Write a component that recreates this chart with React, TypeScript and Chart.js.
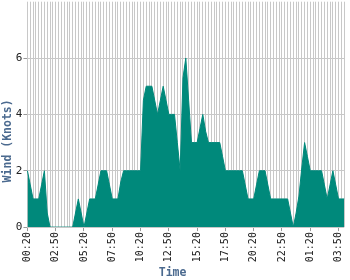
import React, { useEffect, useRef } from "react";
import { Chart, registerables } from "chart.js";

Chart.register(...registerables);

const timeLabels: string[] = [
  "00:20", "00:35", "00:50",
  "01:05", "01:20", "01:35", "01:50",
  "02:05", "02:20", "02:35", "02:50",
  "03:05", "03:20", "03:35", "03:50",
  "04:05", "04:20", "04:35", "04:50",
  "05:05", "05:20", "05:35", "05:50",
  "06:05", "06:20", "06:35", "06:50",
  "07:05", "07:20", "07:35", "07:50",
  "08:05", "08:20", "08:35", "08:50",
  "09:05", "09:20", "09:35", "09:50",
  "10:05", "10:20", "10:35", "10:50",
  "11:05", "11:20", "11:35", "11:50",
  "12:05", "12:20", "12:35", "12:50",
  "13:05", "13:20", "13:35", "13:50",
  "14:05", "14:20", "14:35", "14:50",
  "15:05", "15:20", "15:35", "15:50",
  "16:05", "16:20", "16:35", "16:50",
  "17:05", "17:20", "17:35", "17:50",
  "18:05", "18:20", "18:35", "18:50",
  "19:05", "19:20", "19:35", "19:50",
  "20:05", "20:20", "20:35", "20:50",
  "21:05", "21:20", "21:35", "21:50",
  "22:05", "22:20", "22:35", "22:50",
  "23:05", "23:20", "23:35", "23:50",
  "00:05", "00:20", "00:35", "00:50",
  "01:05", "01:20", "01:35", "01:50",
  "02:05", "02:20", "02:35", "02:50",
  "03:05", "03:20", "03:35", "03:50",
  "04:05", "04:20",
];

const windKnots: number[] = [
  2, 1.5, 1, 1, 1, 1.5, 2, 0.5, 0, 0,
  0, 0, 0, 0, 0, 0, 0, 0.5, 1, 0.5,
  0, 0.5, 1, 1, 1, 1.5, 2, 2, 2, 1.5,
  1, 1, 1, 1.6, 2, 2, 2, 2, 2, 2,
  2, 4.5, 5, 5, 5, 4.5, 4, 4.5, 5, 4.5,
  4, 4, 4, 3, 2, 5.3, 6, 4.5, 3, 3,
  3, 3.5, 4, 3.4, 3, 3, 3, 3, 3, 2.5,
  2, 2, 2, 2, 2, 2, 2, 1.5, 1, 1,
  1, 1.5, 2, 2, 2, 1.5, 1, 1, 1, 1,
  1, 1, 1, 0.5, 0, 0.5, 1.1, 2.1, 3, 2.5,
  2, 2, 2, 2, 2, 1.5, 1, 1.5, 2, 1.5,
  1, 1, 1,
];

const yTickValues: number[] = [0, 2, 4, 6];
const labelEvery = 10;

const FONT = "'DejaVu Sans Mono', monospace";
const TITLE_COLOR = "#4b6a8f";
const FILL = "#00897b";
const GRID = "#c8c8c8";

export default function App() {
  const ref = useRef<HTMLCanvasElement | null>(null);

  useEffect(() => {
    if (!ref.current) return;
    const chart = new Chart(ref.current, {
      type: "line",
      data: {
        labels: timeLabels,
        datasets: [
          {
            data: windKnots,
            borderColor: FILL,
            backgroundColor: FILL,
            borderWidth: 1,
            pointRadius: 0,
            tension: 0,
            fill: "origin",
          },
        ],
      },
      options: {
        animation: false,
        responsive: false,
        devicePixelRatio: 1,
        layout: { padding: { left: 1, right: 5.8, top: 1.7, bottom: 0 } },
        plugins: {
          legend: { display: false },
          tooltip: { enabled: false },
          title: {
            display: true,
            text: "Wind (Knots)",
            position: "left",
            color: TITLE_COLOR,
            font: { family: FONT, size: 11.5, weight: "bold" },
            padding: { top: 0, bottom: 0 },
          },
          subtitle: {
            display: true,
            text: "Time",
            position: "bottom",
            color: TITLE_COLOR,
            font: { family: FONT, size: 11.5, weight: "bold" },
            padding: { top: 3, bottom: 0 },
          },
        },
        scales: {
          x: {
            type: "category",
            offset: false,
            border: { display: false },
            afterFit: (scale: any) => {
              scale.paddingLeft = 0;
              scale.paddingRight = 0;
            },
            grid: {
              color: GRID,
              lineWidth: 1,
              drawTicks: true,
              tickLength: 4,
              tickColor: (ctx: any) =>
                ctx.index % labelEvery === 0 ? "#999999" : "rgba(0,0,0,0)",
            },
            ticks: {
              autoSkip: false,
              minRotation: 90,
              maxRotation: 90,
              padding: 1,
              color: "#222222",
              font: { family: FONT, size: 10 },
              callback: (_v: any, idx: number) =>
                idx % labelEvery === 0 ? timeLabels[idx] : "",
            },
          },
          y: {
            min: 0,
            max: 8,
            border: { display: false },
            afterBuildTicks: (axis: any) => {
              axis.ticks = yTickValues.map((v) => ({ value: v }));
            },
            afterFit: (scale: any) => {
              scale.paddingTop = 0;
              scale.paddingBottom = 0;
            },
            grid: {
              color: GRID,
              lineWidth: 1,
              tickLength: 4,
              tickColor: "#999999",
            },
            ticks: {
              stepSize: 2,
              padding: 1,
              color: "#222222",
              font: { family: FONT, size: 11 },
            },
          },
        },
      },
    });
    return () => chart.destroy();
  }, []);

  return (
    <div style={{ position: "fixed", left: 0, top: 0, width: 350, height: 280, background: "#fff" }}>
      <canvas ref={ref} width={350} height={280} style={{ width: 350, height: 280, display: "block" }} />
    </div>
  );
}
